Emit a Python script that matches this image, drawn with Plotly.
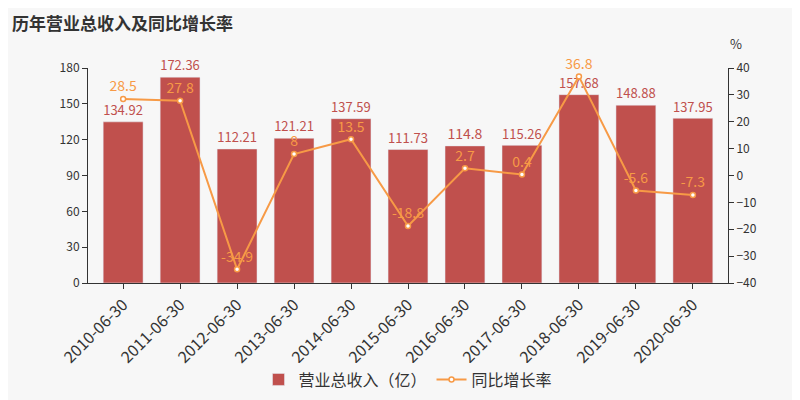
import plotly.graph_objects as go

categories = ["2010-06-30","2011-06-30","2012-06-30","2013-06-30","2014-06-30","2015-06-30","2016-06-30","2017-06-30","2018-06-30","2019-06-30","2020-06-30"]
revenue = [134.92,172.36,112.21,121.21,137.59,111.73,114.8,115.26,157.68,148.88,137.95]
growth = [28.5,27.8,-34.9,8,13.5,-18.8,2.7,0.4,36.8,-5.6,-7.3]
rev_labels = ["134.92","172.36","112.21","121.21","137.59","111.73","114.8","115.26","157.68","148.88","137.95"]
growth_labels = ["28.5","27.8","-34.9","8","13.5","-18.8","2.7","0.4","36.8","-5.6","-7.3"]

bar_color = "#c0504d"
line_color = "#f79a46"
font = "Noto Sans CJK SC"

fig = go.Figure()
fig.add_trace(go.Bar(x=categories, y=revenue, name="营业总收入（亿）", marker_color=bar_color,
                     text=rev_labels, textposition="outside", textfont=dict(color=bar_color, size=14),
                     cliponaxis=False, width=0.7))
fig.add_trace(go.Scatter(x=categories, y=growth, name="同比增长率", yaxis="y2", mode="lines+markers+text",
                         line=dict(color=line_color, width=2),
                         marker=dict(size=5, color="white", line=dict(color=line_color, width=1.5)),
                         text=growth_labels, textposition="top center",
                         textfont=dict(color=line_color, size=14), cliponaxis=False))
fig.update_layout(
    width=800, height=400, paper_bgcolor="#f7f7f7", plot_bgcolor="#f7f7f7",
    font=dict(family=font, color="#333"),
    margin=dict(l=80, r=80, t=60, b=115),
    title=dict(text="<b>历年营业总收入及同比增长率</b>", x=0.005, y=0.975, xanchor="left", yanchor="top",
               font=dict(size=17, color="#333")),
    xaxis=dict(type="category", tickangle=-45, tickfont=dict(size=16, color="#333"), showline=True, linecolor="#333",
               ticks="outside", tickcolor="#333"),
    yaxis=dict(range=[0,180], dtick=30, showgrid=False, showline=True, linecolor="#333",
               ticks="outside", tickcolor="#333", tickfont=dict(size=12), zeroline=False),
    yaxis2=dict(range=[-40,40], dtick=10, overlaying="y", side="right", showgrid=False, showline=True,
                linecolor="#333", ticks="outside", tickcolor="#333", tickfont=dict(size=12), zeroline=False),
    legend=dict(orientation="h", x=0.5, xanchor="center", y=-0.37, yanchor="top", font=dict(size=16)),
    annotations=[dict(text="%", x=1.0, y=1.06, xref="paper", yref="paper", xanchor="left", yanchor="bottom",
                      showarrow=False, font=dict(size=13, color="#333"))],
    bargap=0.3,
)
fig.write_html("out.html")
